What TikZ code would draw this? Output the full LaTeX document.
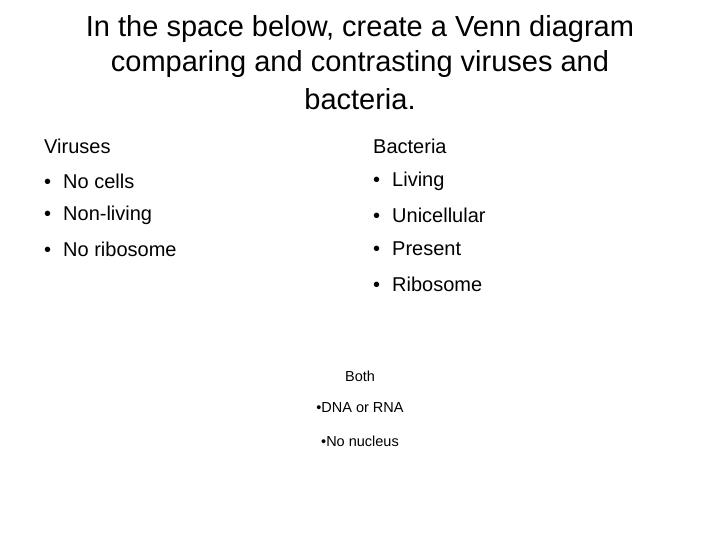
\documentclass[tikz,border=0pt]{standalone}
\usepackage{fontspec}
\setmainfont{Liberation Sans}
\begin{document}
\begin{tikzpicture}[x=1pt,y=-1pt,
  title/.style={font=\fontsize{29}{34}\selectfont,anchor=center,inner sep=0},
  item/.style={font=\fontsize{20}{24}\selectfont,anchor=west,inner sep=0},
  small/.style={font=\fontsize{14.5}{17}\selectfont,anchor=center,inner sep=0}]
\useasboundingbox (0,0) rectangle (720,540);
\node[title] (t1) at (360,29) {In the space below, create a Venn diagram};
\node[title] (t2) at (360,64) {comparing and contrasting viruses and};
\node[title] (t3) at (360,99) {bacteria.};
\node[item] (v) at (44,146) {Viruses};
\node[item] (v1) at (44,181) {\textbullet\hspace{12pt}No cells};
\node[item] (v2) at (44,215) {\textbullet\hspace{12pt}Non-living};
\node[item] (v3) at (44,249) {\textbullet\hspace{12pt}No ribosome};
\node[item] (b) at (373,146) {Bacteria};
\node[item] (b1) at (373,181) {\textbullet\hspace{12pt}Living};
\node[item] (b2) at (373,215) {\textbullet\hspace{12pt}Unicellular};
\node[item] (b3) at (373,249) {\textbullet\hspace{12pt}Present};
\node[item] (b4) at (373,284) {\textbullet\hspace{12pt}Ribosome};
\node[small] (h) at (360,376) {Both};
\node[small] (h1) at (360,408) {\textbullet DNA or RNA};
\node[small] (h2) at (360,441) {\textbullet No nucleus};
\end{tikzpicture}
\end{document}
